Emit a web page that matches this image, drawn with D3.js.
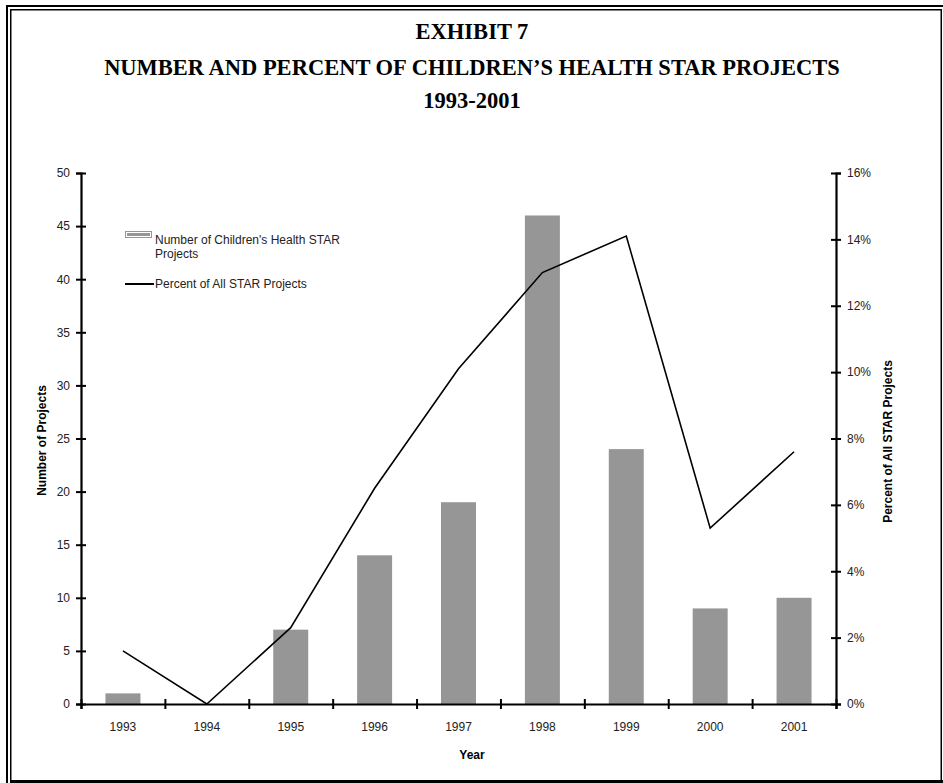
<!DOCTYPE html>
<html>
<head>
<meta charset="utf-8">
<script src="https://cdn.jsdelivr.net/npm/d3@7"></script>
<style>
  html, body { margin: 0; padding: 0; background: #fff; }
  svg { display: block; }
</style>
</head>
<body>
<script>
// ---- data ----
const years = ["1993", "1994", "1995", "1996", "1997", "1998", "1999", "2000", "2001"];
const projectCounts = [1, 0, 7, 14, 19, 46, 24, 9, 10];
const percentOfAll = [0.016, 0.0, 0.023, 0.065, 0.101, 0.130, 0.141, 0.053, 0.076];
const leftTicks = [0, 5, 10, 15, 20, 25, 30, 35, 40, 45, 50];
const rightTicks = [0, 0.02, 0.04, 0.06, 0.08, 0.10, 0.12, 0.14, 0.16];
const titleLines = ["EXHIBIT 7", "NUMBER AND PERCENT OF CHILDREN\u2019S HEALTH STAR PROJECTS", "1993-2001"];
const legendLabels = ["Number of Children's Health STAR", "Projects", "Percent of All STAR Projects"];

(function () {
const W = 943, H = 783;
const svg = d3.select("body").append("svg").attr("width", W).attr("height", H);

// borders
svg.append("rect").attr("x", 7).attr("y", 6).attr("width", W + 10).attr("height", H + 10)
  .attr("fill", "none").attr("stroke", "#000").attr("stroke-width", 2);
svg.append("rect").attr("x", 10.75).attr("y", 9.75).attr("width", 930.5).attr("height", 771.5)
  .attr("fill", "none").attr("stroke", "#000").attr("stroke-width", 1.5);
svg.append("line").attr("x1", 10).attr("x2", W).attr("y1", 781.5).attr("y2", 781.5)
  .attr("stroke", "#000").attr("stroke-width", 3);

// title
const titleY = [31, 67, 100];
titleLines.forEach((t, i) => {
  svg.append("text").attr("x", 472).attr("y", titleY[i]).attr("dy", "0.35em")
    .attr("text-anchor", "middle")
    .attr("font-family", "'Liberation Serif', 'Times New Roman', serif")
    .attr("font-weight", "bold").attr("font-size", 22.5).text(t);
});

const pL = 81, pR = 836, pT = 173, pB = 704;
const x = d3.scaleBand().domain(years).range([pL, pR]).padding(0);
const xi = d3.scaleLinear().domain([0, years.length]).range([pL, pR]);
const yL = d3.scaleLinear().domain([0, 50]).range([pB, pT]);
const yR = d3.scaleLinear().domain([0, 0.16]).range([pB, pT]);

const font = "'Liberation Sans', Arial, sans-serif";
const barW = x.bandwidth() * 0.417;

// bars
svg.append("g").selectAll("rect").data(years).join("rect")
  .attr("x", (d) => x(d) + x.bandwidth() / 2 - barW / 2)
  .attr("y", (d, i) => yL(projectCounts[i]))
  .attr("width", barW)
  .attr("height", (d, i) => yL(0) - yL(projectCounts[i]))
  .attr("fill", "#969696");

// line
const line = d3.line()
  .x((d, i) => x(years[i]) + x.bandwidth() / 2)
  .y((d) => yR(d));
svg.append("path").datum(percentOfAll).attr("d", line)
  .attr("fill", "none").attr("stroke", "#000").attr("stroke-width", 1.6)
  .attr("stroke-linejoin", "miter");

// axes
function styleAxis(g) {
  g.select(".domain").attr("stroke-width", 2.2);
  g.selectAll(".tick line").attr("stroke-width", 2);
  g.selectAll("text").attr("font-family", font).attr("font-size", 12).attr("fill", "#222");
}
const axL = svg.append("g").attr("transform", `translate(${pL},0)`)
  .call(d3.axisLeft(yL).tickValues(leftTicks).tickSizeOuter(0).tickSize(5).tickPadding(6).tickFormat(d3.format("d")));
axL.selectAll(".tick line").attr("x1", -5).attr("x2", 5);
styleAxis(axL);

const axR = svg.append("g").attr("transform", `translate(${pR},0)`)
  .call(d3.axisRight(yR).tickValues(rightTicks).tickSizeOuter(0).tickSize(5).tickPadding(6).tickFormat(d3.format(".0%")));
axR.selectAll(".tick line").attr("x1", -5).attr("x2", 5);
styleAxis(axR);

const axB = svg.append("g").attr("transform", `translate(0,${pB})`)
  .call(d3.axisBottom(xi).tickValues(d3.range(0, years.length + 1)).tickSizeOuter(0).tickSize(5).tickFormat(""));
axB.selectAll(".tick line").attr("y1", -5).attr("y2", 5);
styleAxis(axB);

const axB2 = svg.append("g").attr("transform", `translate(0,${pB})`)
  .call(d3.axisBottom(x).tickSize(0).tickPadding(18));
axB2.select(".domain").remove();
styleAxis(axB2);

// axis titles
svg.append("text").attr("x", 472).attr("y", 755).attr("dy", "0.35em").attr("text-anchor", "middle")
  .attr("font-family", font).attr("font-weight", "bold").attr("font-size", 12).text("Year");
svg.append("text").attr("transform", `translate(42,${(pT + pB) / 2 + 2}) rotate(-90)`)
  .attr("dy", "0.35em").attr("text-anchor", "middle")
  .attr("font-family", font).attr("font-weight", "bold").attr("font-size", 12).text("Number of Projects");
svg.append("text").attr("transform", `translate(888,${(pT + pB) / 2 + 3}) rotate(-90)`)
  .attr("dy", "0.35em").attr("text-anchor", "middle")
  .attr("font-family", font).attr("font-weight", "bold").attr("font-size", 12).text("Percent of All STAR Projects");

// legend
const lg = svg.append("g");
lg.append("rect").attr("x", 125).attr("y", 231).attr("width", 27).attr("height", 7).attr("fill", "#969696");
lg.append("rect").attr("x", 126.5).attr("y", 232.5).attr("width", 24).attr("height", 4)
  .attr("fill", "none").attr("stroke", "#fff").attr("stroke-width", 1);
lg.append("text").attr("x", 155).attr("y", 240).attr("dy", "0.35em")
  .attr("font-family", font).attr("font-size", 12).attr("fill", "#222").text(legendLabels[0]);
lg.append("text").attr("x", 155).attr("y", 254).attr("dy", "0.35em")
  .attr("font-family", font).attr("font-size", 12).attr("fill", "#222").text(legendLabels[1]);
lg.append("line").attr("x1", 125).attr("x2", 154).attr("y1", 284).attr("y2", 284)
  .attr("stroke", "#000").attr("stroke-width", 2);
lg.append("text").attr("x", 155).attr("y", 284).attr("dy", "0.35em")
  .attr("font-family", font).attr("font-size", 12).attr("fill", "#222").text(legendLabels[2]);
})();
</script>
</body>
</html>
